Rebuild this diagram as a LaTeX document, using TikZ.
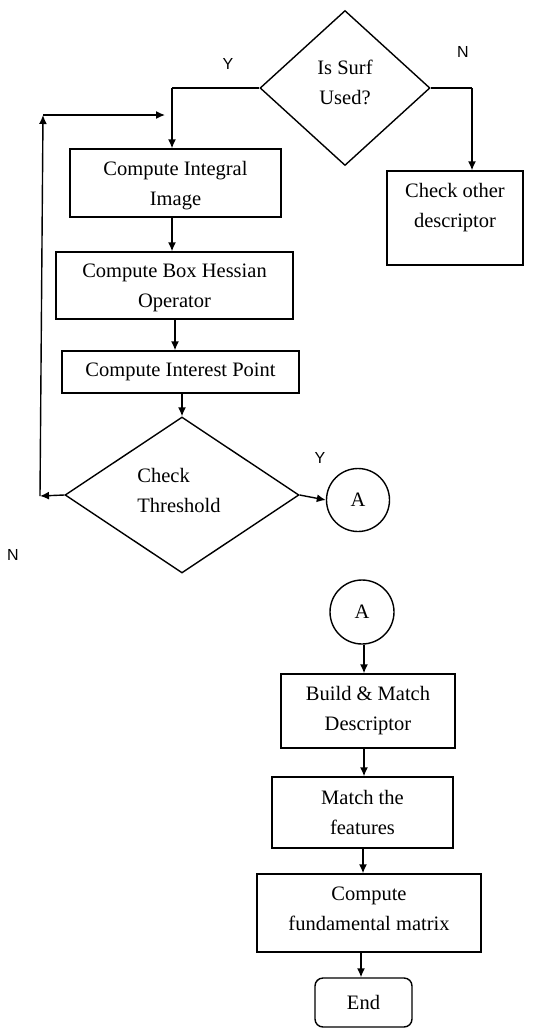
\documentclass[tikz,border=0pt]{standalone}
\usepackage{fontspec}
\setmainfont{Liberation Serif}
\setsansfont{Liberation Sans}
\usetikzlibrary{shapes.geometric,arrows.meta}
\begin{document}
\begin{tikzpicture}[x=1pt,y=-1pt,
  every node/.style={font=\fontsize{20.5}{30}\selectfont},
  box/.style={draw,line width=1.4pt,rectangle,inner sep=0pt,align=center},
  dia/.style={draw,line width=1.4pt,diamond,inner sep=0pt,align=center},
  conn/.style={draw,line width=1.4pt,circle,inner sep=0pt},
  arr/.style={line width=1.4pt,-{Latex[length=9pt,width=8pt]}},
  ln/.style={line width=1.4pt},
  yn/.style={font=\sffamily\fontsize{16}{18}\selectfont}]
\useasboundingbox[fill=white] (0,0) rectangle (556,1029);
% nodes
\node[dia,minimum width=170pt,minimum height=155pt] (d1) at (345,88) {};
\node[align=center] (d1t) at (345,82) {Is Surf\\Used?};
\node[box,minimum width=211pt,minimum height=68pt] (b1) at (175.5,183) {};
\node[align=center] (b1t) at (175.5,186) {Compute Integral\\Image};
\node[box,minimum width=237pt,minimum height=67pt] (b2) at (174.5,285.5) {};
\node[align=center] (b2t) at (174.5,288) {Compute Box Hessian\\Operator};
\node[box,minimum width=237pt,minimum height=42pt] (b3) at (180.5,372) {Compute Interest Point};
\node[dia,minimum width=234pt,minimum height=156pt] (d2) at (182,495) {};
\node[align=left] (d2t) at (179,490) {Check\\Threshold};
\node[conn,minimum size=63pt] (cA1) at (358,500) {A};
\node[box,minimum width=136pt,minimum height=94pt] (oth) at (455,218) {};
\node[align=center] (otht) at (455,208) {Check other\\descriptor};
\node[conn,minimum size=64pt] (cA2) at (362,612) {A};
\node[box,minimum width=174pt,minimum height=74pt] (b4) at (368,711) {Build \& Match\\Descriptor};
\node[box,minimum width=181pt,minimum height=71pt] (b5) at (362.5,812.5) {Match the\\features};
\node[box,minimum width=224pt,minimum height=78pt] (b6) at (369,913) {};
\node[align=center] (b6t) at (369,909) {Compute\\fundamental matrix};
\node[box,rounded corners=8pt,minimum width=97pt,minimum height=49pt] (end) at (363.5,1002.5) {End};
% coordinates
\coordinate (yc) at (172,88);
\coordinate (nc) at (472,88);
\coordinate (nl) at (40,496);
\coordinate (lt) at (43,115);
\coordinate (lr) at (165,115);
\coordinate (x2) at (175,0);
\coordinate (x4) at (364,0);
\coordinate (x6) at (363,0);
\coordinate (x7) at (361,0);
% connectors
\draw[ln] (d1.west) -- (yc);
\draw[arr] (yc) -- (yc |- b1.north);
\draw[ln] (d1.east) -- (nc);
\draw[arr] (nc) -- (nc |- oth.north);
\draw[arr] (b1.south -| yc) -- (b2.north -| yc);
\draw[arr] (b2.south -| x2) -- (b3.north -| x2);
\draw[arr] (b3.south -| d2.north) -- (d2.north);
\draw[arr] (d2.west) -- (nl);
\draw[arr] (nl) -- (lt);
\draw[arr] (lt) -- (lr);
\draw[arr] (d2.east) -- (cA1.west);
\draw[arr] (cA2.south -| x4) -- (b4.north -| x4);
\draw[arr] (b4.south -| x4) -- (b5.north -| x4);
\draw[arr] (b5.south -| x6) -- (b6.north -| x6);
\draw[arr] (b6.south -| x7) -- (end.north -| x7);
% labels
\node[yn] (ly1) at (228,64) {Y};
\node[yn] (ln1) at (463,52) {N};
\node[yn] (ly2) at (320,458) {Y};
\node[yn] (ln2) at (13,555) {N};
\end{tikzpicture}
\end{document}
